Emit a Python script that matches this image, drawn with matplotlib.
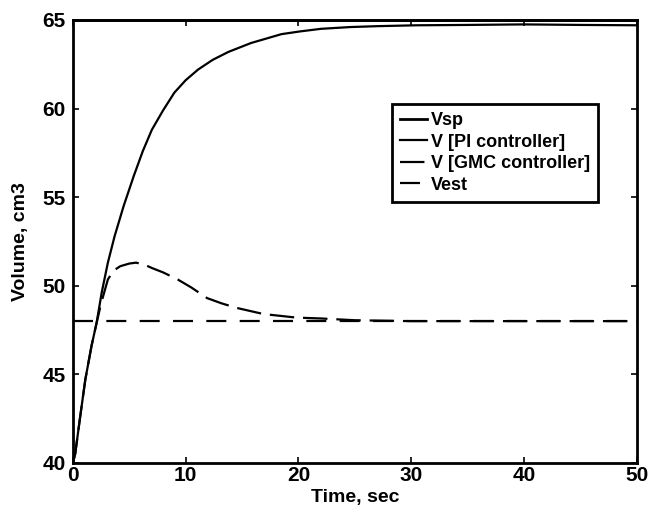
import matplotlib
matplotlib.use("Agg")
import matplotlib.pyplot as plt

# time axis limits and setpoint
t_range = [0, 50]
v_setpoint = 65.0
v_estimate = 48.0

# volume response with the PI controller
t_pi = [0, 0.2, 0.6, 1.1, 1.65, 2.1, 2.55, 3.1, 3.7, 4.5, 5.4, 6.2, 7.0, 8.0,
        9.0, 10.0, 11.1, 12.4, 13.8, 15.8, 18.5, 20.1, 22.0, 24.6, 27.0,
        30.5, 35.0, 40.0, 45.0, 50.0]
v_pi = [40.0, 40.5, 42.4, 44.7, 46.6, 47.9, 49.6, 51.3, 52.8, 54.5, 56.2,
        57.6, 58.8, 59.9, 60.9, 61.6, 62.2, 62.75, 63.2, 63.7, 64.2, 64.35,
        64.5, 64.6, 64.65, 64.7, 64.72, 64.75, 64.72, 64.7]

# volume response with the GMC controller
t_gmc = [0, 0.2, 0.6, 1.1, 1.65, 2.1, 2.5, 3.1, 3.6, 4.2, 5.0, 5.6, 6.3,
         7.0, 8.0, 9.3, 10.5, 11.9, 13.2, 14.5, 16.9, 19.8, 22.0, 25.0,
         30.0, 40.0, 50.0]
v_gmc = [40.0, 40.5, 42.4, 44.7, 46.6, 47.9, 49.0, 50.35, 50.85, 51.1, 51.25,
         51.3, 51.2, 51.0, 50.75, 50.35, 49.9, 49.3, 49.0, 48.75, 48.4, 48.2,
         48.15, 48.05, 48.0, 48.0, 48.0]

x_ticks = [0, 10, 20, 30, 40, 50]
y_ticks = [40, 45, 50, 55, 60, 65]

plt.rcParams['font.family'] = ['Liberation Sans', 'DejaVu Sans']
plt.rcParams['font.weight'] = 'bold'

fig = plt.figure(figsize=(6.51, 5.12), dpi=100)
ax = fig.add_axes([0.112, 0.096, 0.866, 0.865])

ax.plot(t_range, [v_setpoint, v_setpoint], color='black', lw=2.0,
        label='Vsp', clip_on=False)
ax.plot(t_pi, v_pi, color='black', lw=1.6, label='V [PI controller]')
ax.plot(t_gmc, v_gmc, color='black', lw=1.6, dashes=(11, 4),
        label='V [GMC controller]')
ax.plot(t_range, [v_estimate, v_estimate], color='black', lw=1.6,
        dashes=(9, 6), label='Vest')

ax.set_xlim(t_range)
ax.set_ylim(40, 65)
ax.set_xticks(x_ticks)
ax.set_yticks(y_ticks)
ax.tick_params(direction='in', top=True, right=True, length=4, width=1.2,
               labelsize=15)
ax.tick_params(axis='x', pad=2)
ax.tick_params(axis='y', pad=5)
for lab in ax.get_xticklabels() + ax.get_yticklabels():
    lab.set_fontweight('bold')
for sp in ax.spines.values():
    sp.set_linewidth(2.0)

ax.set_xlabel('Time, sec', fontsize=14, fontweight='bold', labelpad=3)
ax.set_ylabel('Volume, cm3', fontsize=14, fontweight='bold', labelpad=10)

leg = ax.legend(loc='upper left', bbox_to_anchor=(0.566, 0.81),
                fontsize=13, frameon=True, fancybox=False, framealpha=1,
                edgecolor='black', handlelength=1.5, handletextpad=0.2,
                labelspacing=0.25, borderpad=0.45, borderaxespad=0)
leg.get_frame().set_linewidth(2.0)
for txt in leg.get_texts():
    txt.set_fontweight('bold')

fig.savefig('out.png', dpi=100)
